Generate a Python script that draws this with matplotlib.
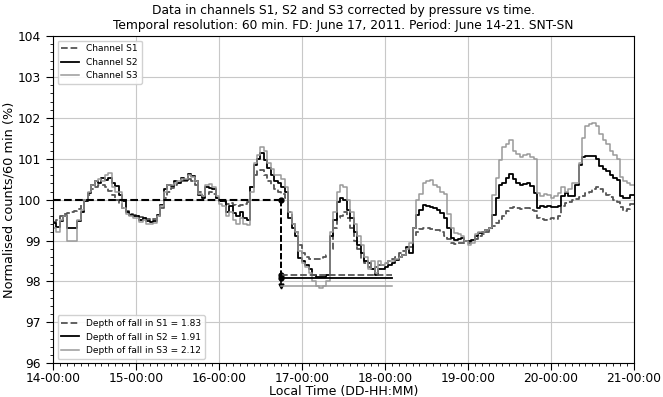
import matplotlib
matplotlib.use("Agg")
import matplotlib.pyplot as plt
import matplotlib.dates as mdates
from matplotlib.ticker import MultipleLocator
import numpy as np
import pandas as pd

# hourly values, one row per day (14 .. 20 June 2011)
s1 = [
    99.45, 99.50, 99.60, 99.65, 99.68, 99.70, 99.72, 99.78, 99.88, 100.00, 100.12, 100.25,
    100.32, 100.35, 100.36, 100.30, 100.22, 100.12, 100.00, 99.90, 99.80, 99.72, 99.66, 99.62,
    99.60, 99.58, 99.55, 99.52, 99.50, 99.52, 99.60, 99.80, 100.05, 100.20, 100.28, 100.35,
    100.40, 100.45, 100.45, 100.50, 100.45, 100.35, 100.20, 100.10, 100.15, 100.20, 100.15, 100.05,
    99.97, 99.95, 99.90, 99.92, 99.88, 99.85, 99.88, 99.90, 99.95, 100.30, 100.60, 100.70,
    100.72, 100.60, 100.45, 100.35, 100.25, 100.20, 100.15, 100.05, 99.70, 99.40, 99.20, 98.90,
    98.70, 98.60, 98.55, 98.55, 98.55, 98.55, 98.60, 98.65, 98.80, 99.30, 99.55, 99.60,
    99.70, 99.55, 99.30, 99.00, 98.80, 98.55, 98.45, 98.35, 98.30, 98.35, 98.40, 98.40,
    98.45, 98.50, 98.55, 98.60, 98.70, 98.75, 98.85, 98.85, 99.10, 99.20, 99.28, 99.30,
    99.30, 99.28, 99.27, 99.25, 99.20, 99.12, 99.05, 98.95, 98.92, 98.93, 98.95, 98.95,
    98.95, 98.98, 99.05, 99.12, 99.17, 99.20, 99.25, 99.35, 99.42, 99.52, 99.60, 99.72,
    99.80, 99.82, 99.80, 99.78, 99.80, 99.80, 99.76, 99.72, 99.55, 99.52, 99.50, 99.53,
    99.55, 99.52, 99.60, 99.85, 99.92, 99.95, 100.00, 100.02, 100.06, 100.10, 100.16, 100.18,
    100.25, 100.30, 100.25, 100.18, 100.12, 100.06, 100.00, 99.94, 99.82, 99.72, 99.78, 99.90,
]
s2 = [
    99.43, 99.34, 99.47, 99.59, 99.30, 99.30, 99.30, 99.47, 99.71, 99.96, 100.16, 100.37,
    100.45, 100.41, 100.53, 100.49, 100.53, 100.41, 100.33, 100.12, 99.96, 99.71, 99.63, 99.59,
    99.59, 99.51, 99.55, 99.47, 99.46, 99.47, 99.63, 99.88, 100.25, 100.37, 100.33, 100.45,
    100.41, 100.53, 100.49, 100.63, 100.57, 100.45, 100.12, 100.04, 100.30, 100.28, 100.26, 100.04,
    99.96, 99.96, 99.71, 99.84, 99.67, 99.59, 99.71, 99.55, 99.51, 100.30, 100.86, 101.00,
    101.15, 100.98, 100.78, 100.61, 100.45, 100.40, 100.30, 100.20, 99.55, 99.30, 99.10, 98.57,
    98.50, 98.40, 98.30, 98.15, 98.10, 98.10, 98.10, 98.15, 99.10, 99.50, 99.95, 100.04,
    100.00, 99.75, 99.55, 99.20, 98.90, 98.70, 98.50, 98.45, 98.30, 98.15, 98.30, 98.30,
    98.36, 98.40, 98.44, 98.52, 98.60, 98.65, 98.85, 98.69, 99.30, 99.63, 99.75, 99.88,
    99.85, 99.82, 99.80, 99.75, 99.67, 99.55, 99.30, 99.06, 99.02, 99.04, 99.06, 99.00,
    98.98, 99.02, 99.10, 99.18, 99.22, 99.27, 99.30, 99.63, 100.04, 100.37, 100.41, 100.53,
    100.63, 100.50, 100.41, 100.37, 100.39, 100.41, 100.33, 100.16, 99.80, 99.84, 99.81, 99.84,
    99.82, 99.82, 99.84, 100.08, 100.16, 100.08, 100.08, 100.37, 100.86, 101.05, 101.07, 101.08,
    101.07, 101.00, 100.82, 100.76, 100.70, 100.60, 100.53, 100.47, 100.08, 100.04, 100.04, 100.12,
]
s3 = [
    99.30, 99.20, 99.50, 99.60, 99.00, 99.00, 99.00, 99.50, 99.75, 100.00, 100.20, 100.35,
    100.45, 100.50, 100.45, 100.60, 100.66, 100.30, 100.20, 100.20, 99.80, 99.65, 99.60, 99.55,
    99.55, 99.45, 99.50, 99.40, 99.40, 99.42, 99.60, 99.85, 100.20, 100.35, 100.35, 100.40,
    100.45, 100.50, 100.50, 100.60, 100.55, 100.45, 100.15, 100.10, 100.35, 100.38, 100.30, 100.10,
    99.90, 99.85, 99.60, 99.70, 99.50, 99.40, 99.55, 99.40, 99.38, 100.20, 100.90, 101.10,
    101.28, 101.20, 100.90, 100.75, 100.60, 100.60, 100.50, 100.30, 99.70, 99.40, 99.20, 98.75,
    98.45, 98.35, 98.20, 98.00, 97.90, 97.85, 97.90, 98.00, 99.20, 99.70, 100.20, 100.35,
    100.30, 100.00, 99.70, 99.40, 99.10, 98.90, 98.60, 98.30, 98.50, 98.20, 98.50, 98.40,
    98.45, 98.50, 98.50, 98.55, 98.60, 98.65, 98.80, 98.95, 99.30, 100.00, 100.15, 100.40,
    100.45, 100.47, 100.35, 100.30, 100.20, 100.15, 99.65, 99.30, 99.18, 99.15, 99.10, 98.98,
    98.90, 98.95, 99.15, 99.20, 99.22, 99.25, 99.30, 100.12, 100.53, 100.98, 101.30, 101.35,
    101.45, 101.20, 101.12, 101.05, 101.10, 101.12, 101.05, 101.00, 100.16, 100.10, 100.15, 100.12,
    100.05, 100.10, 100.16, 100.30, 100.20, 100.25, 100.40, 100.42, 100.90, 101.50, 101.80, 101.85,
    101.88, 101.80, 101.60, 101.45, 101.35, 101.20, 101.10, 101.00, 100.55, 100.45, 100.40, 100.35,
]

depths = [1.83, 1.91, 2.12]
base_level = 100.0
t_start = "2011-06-14 00:00"
t_fall = "2011-06-16 18:00"
t_level_end = "2011-06-18 02:00"
t_end = "2011-06-21 00:00"

times = pd.date_range(t_start, periods=len(s1) + 1, freq="h")

styles = [
    dict(color="#555555", ls="--", lw=1.3),
    dict(color="black", ls="-", lw=1.3),
    dict(color="#9a9a9a", ls="-", lw=1.1),
]

fig, ax = plt.subplots(figsize=(6.63, 3.97), dpi=100)
fig.subplots_adjust(left=0.080, right=0.956, top=0.909, bottom=0.085)

series = [s1, s2, s3]
names = ["Channel S1", "Channel S2", "Channel S3"]
handles = []
for vals, name, st in zip(series, names, styles):
    v = np.append(vals, vals[-1])
    h, = ax.plot(times, v, drawstyle="steps-post", label=name, **st)
    handles.append(h)

tf = pd.Timestamp(t_fall)
t0 = pd.Timestamp(t_start)
te = pd.Timestamp(t_level_end)

# depth of fall construction
ax.plot([t0, tf], [base_level, base_level], color="black", ls="--", lw=1.5)
fall_handles = []
for i, (d, st, mk) in enumerate(zip(depths, styles, ["o", "o", "v"])):
    lvl = base_level - d
    ax.plot([tf, tf], [base_level, lvl], color="black", ls="--", lw=1.2)
    ax.plot([tf], [lvl], marker=mk, color="black", ms=3.5)
    h, = ax.plot([tf, te], [lvl, lvl], color=st["color"], ls=st["ls"],
                 lw=st["lw"], label=f"Depth of fall in S{i + 1} = {d:.2f}")
    fall_handles.append(h)
ax.plot([tf], [base_level], marker="o", color="black", ms=3.5)

ax.set_xlim(pd.Timestamp(t_start), pd.Timestamp(t_end))
ax.set_ylim(96, 104)
ax.xaxis.set_major_locator(mdates.DayLocator())
ax.xaxis.set_minor_locator(mdates.HourLocator(interval=2))
ax.xaxis.set_major_formatter(mdates.DateFormatter("%d-%H:%M"))
ax.yaxis.set_major_locator(MultipleLocator(1))
ax.yaxis.set_minor_locator(MultipleLocator(0.2))
ax.tick_params(which="major", length=5, labelsize=8.8)
ax.tick_params(axis="x", which="major", pad=1)
ax.tick_params(which="minor", length=2.5)
ax.grid(True, which="major", color="#c8c8c8", lw=0.8)

ax.set_xlabel("Local Time (DD-HH:MM)", fontsize=9, labelpad=0)
ax.set_ylabel("Normalised counts/60 min (%)", fontsize=9.3, labelpad=2)
ax.set_title("Data in channels S1, S2 and S3 corrected by pressure vs time.\n"
             "Temporal resolution: 60 min. FD: June 17, 2011. Period: June 14-21. SNT-SN",
             fontsize=8.8, pad=5)

leg1 = ax.legend(handles=handles, loc="upper left", fontsize=6.5,
                 framealpha=0.9, edgecolor="#cccccc")
ax.add_artist(leg1)
ax.legend(handles=fall_handles, loc="lower left", fontsize=6.5,
          framealpha=0.9, edgecolor="#cccccc")

fig.savefig("out.png", dpi=100)
